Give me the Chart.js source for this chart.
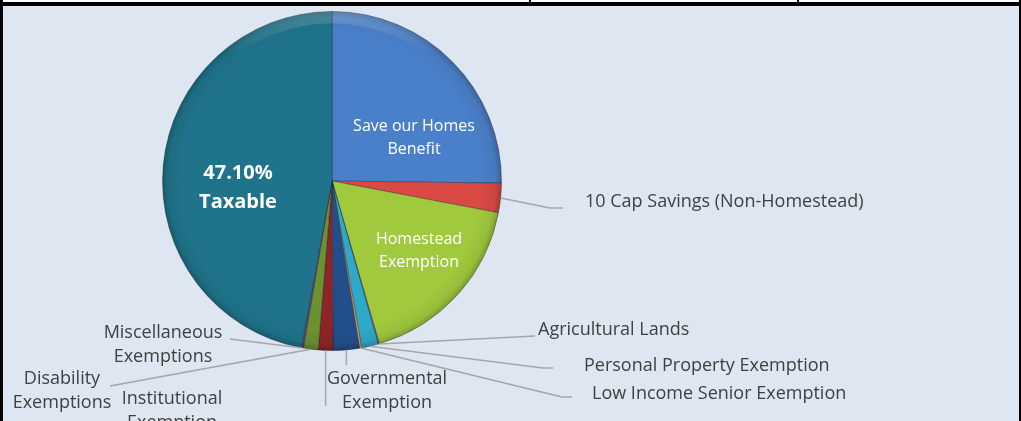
<!DOCTYPE html>
<html>
<head>
<meta charset="utf-8">
<script src="https://cdn.jsdelivr.net/npm/chart.js@4"></script>
<style>
  html, body { margin: 0; padding: 0; background: #fff; }
  #frame { position: relative; width: 1021px; height: 421px; background: #dde6f1; overflow: hidden; }
  #topbar { position: absolute; left: 0; top: 2px; width: 1021px; height: 4px; background: #000; }
  #topstrip { position: absolute; left: 0; top: 0; width: 1021px; height: 2px; background: #fff; }
  .tick { position: absolute; top: 0; width: 2px; height: 3px; background: #000; }
  #leftbar { position: absolute; left: 0; top: 0; width: 3px; height: 421px; background: #000; }
  #rightbar { position: absolute; right: 0; top: 0; width: 2px; height: 421px; background: #000; }
  canvas { position: absolute; left: 0; top: 0; }
</style>
</head>
<body>
<div id="frame">
  <canvas id="myChart" width="1021" height="421"></canvas>
  <div id="topstrip"></div>
  <div class="tick" style="left:529px"></div>
  <div class="tick" style="left:797px"></div>
  <div id="topbar"></div>
  <div id="leftbar"></div>
  <div id="rightbar"></div>
</div>
<script>
// slices, clockwise from 12 o'clock (percent of just value)
const categories = [
    'Save our Homes Benefit',
    '10 Cap Savings (Non-Homestead)',
    'Homestead Exemption',
    'Agricultural Lands',
    'Personal Property Exemption',
    'Low Income Senior Exemption',
    'Governmental Exemption',
    'Institutional Exemption',
    'Disability Exemptions',
    'Miscellaneous Exemptions',
    'Taxable'
];
const shares = [25.2, 2.8, 17.5, 0.1, 1.6, 0.2, 2.5, 1.4, 1.4, 0.2, 47.1];
const sliceColors = ['#4a80c9', '#da4944', '#a0c93d', '#8064a2', '#2fa9c9', '#f79646',
    '#224f8b', '#8c2428', '#6b9130', '#5c4680', '#1f748b'];

// label text lines, in the same order as categories
const labelLines = [
    ['Save our Homes', 'Benefit'],
    ['10 Cap Savings (Non-Homestead)'],
    ['Homestead', 'Exemption'],
    ['Agricultural Lands'],
    ['Personal Property Exemption'],
    ['Low Income Senior Exemption'],
    ['Governmental', 'Exemption'],
    ['Institutional', 'Exemption'],
    ['Disability', 'Exemptions'],
    ['Miscellaneous', 'Exemptions'],
    ['47.10%', 'Taxable']
];

// where each label goes: inside labels have no leader; outside ones have an elbow path
const labelPlace = [
    { x: 414, y: 126, inside: true },
    { x: 585, y: 202, align: 'left', path: [[550, 208], [563, 208]] },
    { x: 419, y: 239, inside: true },
    { x: 538, y: 330, align: 'left', path: [[535, 336]] },
    { x: 584, y: 366, align: 'left', path: [[543, 368], [553, 368]] },
    { x: 592, y: 394, align: 'left', path: [[562, 397], [572, 397]] },
    { x: 387, y: 379, align: 'center', path: [[348, 365]], vertical: true },
    { x: 172, y: 399, align: 'center', path: [[325, 406]], vertical: true },
    { x: 62, y: 379, align: 'center', path: [[110, 386]] },
    { x: 163, y: 333, align: 'center', path: [[230, 339]] },
    { x: 238, y: 173, inside: true, bold: true }
];

const bevel = {
    id: 'bevel',
    afterDatasetsDraw(chart) {
        const arc = chart.getDatasetMeta(0).data[0];
        const { x, y, outerRadius: r } = arc.getProps(['x', 'y', 'outerRadius'], true);
        const ctx = chart.ctx;
        ctx.save();
        let g = ctx.createRadialGradient(x, y, r * 0.88, x, y, r);
        g.addColorStop(0, 'rgba(0,0,0,0)');
        g.addColorStop(0.7, 'rgba(0,0,0,0.06)');
        g.addColorStop(1, 'rgba(0,0,0,0.22)');
        ctx.fillStyle = g;
        ctx.beginPath();
        ctx.arc(x, y, r, 0, Math.PI * 2);
        ctx.fill();
        // soft highlight along the upper rim
        g = ctx.createLinearGradient(0, y - r, 0, y);
        g.addColorStop(0, 'rgba(255,255,255,0.18)');
        g.addColorStop(0.25, 'rgba(255,255,255,0)');
        ctx.fillStyle = g;
        ctx.beginPath();
        ctx.arc(x, y, r, 0, Math.PI * 2);
        ctx.arc(x, y, r * 0.93, 0, Math.PI * 2, true);
        ctx.fill();
        ctx.restore();
    }
};

const sliceLabels = {
    id: 'sliceLabels',
    afterDraw(chart) {
        const ctx = chart.ctx;
        const arcs = chart.getDatasetMeta(0).data;
        ctx.save();
        arcs.forEach((arc, i) => {
            const place = labelPlace[i];
            const lines = labelLines[i];
            if (place.inside) {
                ctx.fillStyle = '#ffffff';
                ctx.font = (place.bold ? 'bold 20px' : '16px') + ' "Open Sans", sans-serif';
                ctx.textAlign = 'center';
                ctx.textBaseline = 'middle';
                const step = place.bold ? 29 : 23;
                lines.forEach((t, k) => ctx.fillText(t, place.x, place.y + k * step));
                return;
            }
            const p = arc.getProps(['x', 'y', 'startAngle', 'endAngle', 'outerRadius'], true);
            const mid = (p.startAngle + p.endAngle) / 2;
            const sx = p.x + Math.cos(mid) * p.outerRadius;
            const sy = p.y + Math.sin(mid) * p.outerRadius;
            ctx.strokeStyle = '#a6a6a6';
            ctx.lineWidth = 1.5;
            ctx.beginPath();
            if (place.vertical) {
                ctx.moveTo(sx, sy);
                ctx.lineTo(sx, place.path[0][1]);
            } else {
                ctx.moveTo(sx, sy);
                place.path.forEach(pt => ctx.lineTo(pt[0], pt[1]));
            }
            ctx.stroke();
            ctx.fillStyle = '#404040';
            ctx.font = '18px "Open Sans", sans-serif';
            ctx.textAlign = place.align;
            ctx.textBaseline = 'middle';
            lines.forEach((t, k) => ctx.fillText(t, place.x, place.y + k * 24));
        });
        ctx.restore();
    }
};

const ctx = document.getElementById('myChart').getContext('2d');
const chart = new Chart(ctx, {
    type: 'pie',
    data: {
        labels: categories,
        datasets: [{
            data: shares,
            backgroundColor: sliceColors,
            borderColor: 'rgba(20,30,40,0.35)',
            borderWidth: 1
        }]
    },
    options: {
        responsive: false,
        animation: false,
        layout: { padding: { left: 162, right: 519, top: 11, bottom: 70 } },
        plugins: {
            legend: { display: false },
            tooltip: { enabled: false }
        }
    },
    plugins: [bevel, sliceLabels]
});
</script>
</body>
</html>
